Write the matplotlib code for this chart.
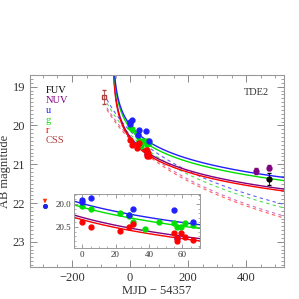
import numpy as np
import matplotlib
matplotlib.use("Agg")
import matplotlib.pyplot as plt
from matplotlib.ticker import MultipleLocator

plt.rcParams['font.family'] = ['Liberation Serif', 'DejaVu Serif']

# ---- data (MJD - 54357, AB mag) ----
u_t = [0, 0, 5.4, 28.3, 30.7, 54.9, 57, 66.7]
u_m = [19.92, 19.96, 19.87, 20.25, 20.11, 20.14, 20.74, 20.39]
g_t = [0, 5.4, 22.6, 28.3, 28.3, 30.7, 37.8, 45.9, 54.9, 57, 59, 61.4, 66.7]
g_m = [20.05, 20.10, 20.20, 20.23, 20.26, 20.39, 20.54, 20.39, 20.41, 20.49, 20.49, 20.41, 20.46]
r_t = [0, 5.4, 22.6, 28.3, 30.7, 54.9, 57, 57, 59, 61.4, 66.7]
r_m = [20.38, 20.50, 20.58, 20.49, 20.44, 20.63, 20.80, 20.74, 20.63, 20.72, 20.78]
nuv_t = [434, 479]
nuv_m = [21.17, 21.09]
fuv_t = [479]
fuv_m = [21.38]
css_t = [-89]
css_m = [19.26]
lim_t = [-293]
lim_m = [22.08]

# power-law fit parameters: mag = A + k*log10(t - t0)
solid_fits = {  # band: (A, k, t0)
    'u': (17.573, 1.36, -60.0),
    'g': (17.653, 1.36, -60.0),
    'NUV': (17.873, 1.36, -60.0),
    'r': (17.923, 1.36, -60.0),
}
dash_fits = {
    'u': (12.97, 3.18, -180.0),
    'g': (13.06, 3.18, -180.0),
    'NUV': (11.72, 3.7, -210.0),
    'r': (11.77, 3.7, -210.0),
}
dash_start = -80.0

col = {'FUV': 'black', 'NUV': '#800080', 'u': '#2020ff', 'g': '#00e000',
       'r': '#ff0000', 'CSS': '#b04040'}
dcol = {'u': '#6060ff', 'g': '#50e050', 'NUV': '#d070c0', 'r': '#ff6060'}

fig = plt.figure(figsize=(2.99, 2.99), dpi=100)
ax = fig.add_axes([0.100, 0.107, 0.850, 0.642])


def draw_curves(a, tmin, tmax):
    for b in ['NUV', 'r', 'g', 'u']:
        A, k, t0 = solid_fits[b]
        t = np.linspace(max(tmin, t0 + 0.3), tmax, 600)
        a.plot(t, A + k * np.log10(t - t0), color=col[b], lw=1.0, zorder=2)


def draw_dash(a, tmax):
    for b in ['NUV', 'r', 'g', 'u']:
        A, k, t0 = dash_fits[b]
        t = np.linspace(dash_start, tmax, 400)
        a.plot(t, A + k * np.log10(t - t0), color=dcol[b], lw=0.8,
               ls=(0, (3, 3)), zorder=2)


def draw_points(a, ms):
    for tt, mm, b in [(g_t, g_m, 'g'), (u_t, u_m, 'u'), (r_t, r_m, 'r')]:
        a.errorbar(tt, mm, yerr=0.03, fmt='o', color=col[b], ms=ms,
                   elinewidth=0.5, capsize=1, zorder=3)


draw_dash(ax, 540)
draw_curves(ax, -100, 540)
draw_points(ax, 3.5)
ax.errorbar(nuv_t, nuv_m, yerr=0.07, fmt='o', color=col['NUV'], ms=3.5,
            elinewidth=0.6, capsize=1.5, zorder=3)
ax.errorbar(fuv_t, fuv_m, yerr=0.15, fmt='o', color=col['FUV'], ms=3.5,
            elinewidth=0.6, capsize=1.5, zorder=3)
ax.errorbar(css_t, css_m, yerr=0.18, fmt='s', mfc='none', mec=col['CSS'],
            color=col['CSS'], ms=3.5, elinewidth=0.6, capsize=1.5, zorder=3)
# upper limit
for b in ['r', 'g', 'u']:
    ax.plot(lim_t, lim_m, 'o', color=col[b], ms=2.5, zorder=3)
ax.annotate('', xy=(lim_t[0], lim_m[0]), xytext=(lim_t[0], lim_m[0] - 0.25),
            arrowprops=dict(arrowstyle='-|>', color='#ff3000', lw=0.8,
                            mutation_scale=5))

ax.set_xlim(-345, 530)
ax.set_ylim(23.65, 18.7)
ax.xaxis.set_major_locator(MultipleLocator(200))
ax.xaxis.set_minor_locator(MultipleLocator(50))
ax.yaxis.set_major_locator(MultipleLocator(1))
ax.yaxis.set_minor_locator(MultipleLocator(0.1))
ax.tick_params(which='both', direction='in', top=True, right=True,
               labelsize=9, colors='#777777', labelcolor='#333333')
ax.tick_params(which='major', length=5, width=0.6)
ax.tick_params(which='minor', length=2.5, width=0.5)
for s in ax.spines.values():
    s.set_color('#999999')
    s.set_linewidth(0.8)
ax.set_xticks([-200, 0, 200, 400])
ax.set_xticklabels(['\u2212200', '0', '200', '400'])
ax.set_xlabel('MJD \u2212 54357', fontsize=9, color='#333333', labelpad=1)
ax.set_ylabel('AB magnitude', fontsize=9, color='#333333', labelpad=1)

labels = ['FUV', 'NUV', 'u', 'g', 'r', 'CSS']
for i, lab in enumerate(labels):
    ax.text(0.063, 0.92 - i * 0.052, lab, transform=ax.transAxes,
            color=col[lab], fontsize=7.5, va='center', ha='left')
ax.text(0.84, 0.91, 'TDE2', transform=ax.transAxes, fontsize=7.5,
        color='#333333', va='center', ha='left')

# inset
ins = fig.add_axes([0.247, 0.171, 0.421, 0.181])
draw_curves(ins, -10, 75)
draw_points(ins, 3.5)
ins.set_xlim(-5, 70.5)
ins.set_ylim(20.95, 19.78)
ins.xaxis.set_major_locator(MultipleLocator(20))
ins.xaxis.set_minor_locator(MultipleLocator(5))
ins.set_yticks([20.0, 20.5])
ins.set_yticklabels(['20.0', '20.5'])
ins.yaxis.set_minor_locator(MultipleLocator(0.1))
ins.tick_params(which='both', direction='in', top=True, right=True,
                labelsize=6.5, colors='#777777', labelcolor='#333333', pad=2)
ins.tick_params(which='major', length=3, width=0.5)
ins.tick_params(which='minor', length=1.5, width=0.4)
for s in ins.spines.values():
    s.set_color('#999999')
    s.set_linewidth(0.7)

fig.savefig('out.png', dpi=100)
